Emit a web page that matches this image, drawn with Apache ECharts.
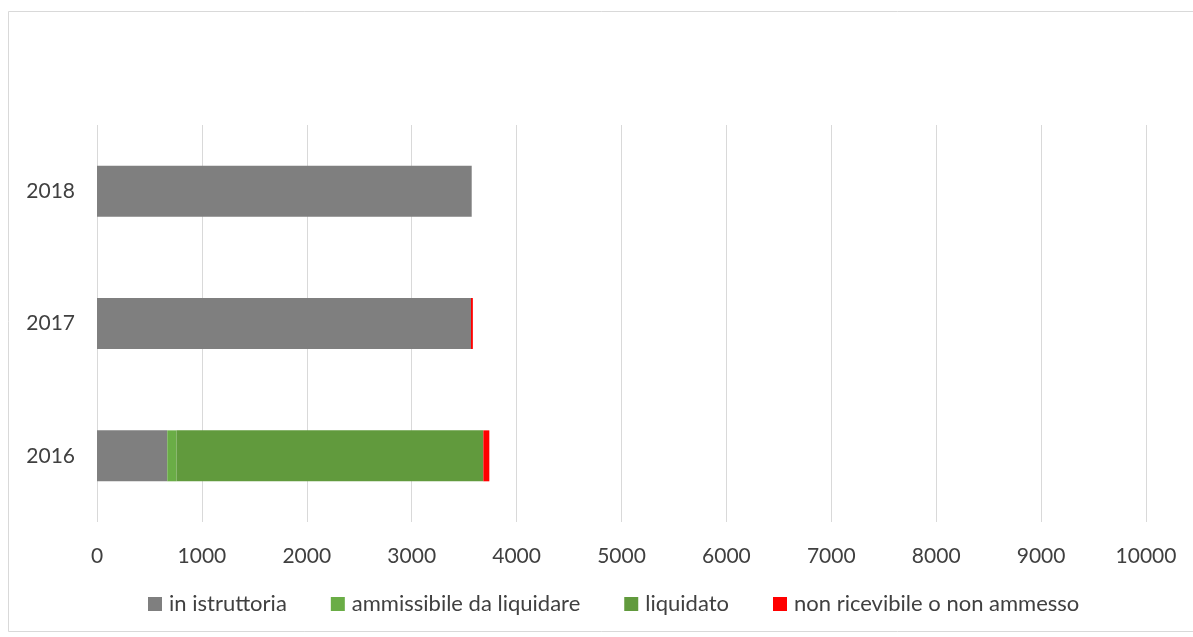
<!DOCTYPE html>
<html>
<head>
<meta charset="utf-8">
<script src="https://cdn.jsdelivr.net/npm/echarts@6/dist/echarts.min.js"></script>
<style>
html,body{margin:0;padding:0;background:#fff;}
#chart{width:1193px;height:637px;}
</style>
</head>
<body>
<div id="chart"></div>
<script>
var categories = ['2016', '2017', '2018'];
var seriesNames = ['in istruttoria', 'ammissibile da liquidare', 'liquidato', 'non ricevibile o non ammesso'];
var inIstruttoria = [670, 3565, 3572];
var ammissibile = [88, 0, 0];
var liquidato = [2925, 0, 0];
var nonRicevibile = [57, 18, 0];
var xTicks = [0, 1000, 2000, 3000, 4000, 5000, 6000, 7000, 8000, 9000, 10000];

var colors = ['#7f7f7f', '#6aad46', '#619a3d', '#ff0000'];
var values = [inIstruttoria, ammissibile, liquidato, nonRicevibile];
var FONT = 'Lato';

var chart = echarts.init(document.getElementById('chart'), null, {renderer: 'canvas'});
chart.setOption({
  backgroundColor: '#ffffff',
  animation: false,
  textStyle: {fontFamily: FONT},
  graphic: [{
    type: 'rect',
    shape: {x: 8.5, y: 11.5, width: 1200, height: 620},
    style: {fill: 'none', stroke: '#d9d9d9', lineWidth: 1},
    silent: true
  }],
  legend: {
    bottom: 17,
    left: 143,
    itemWidth: 14,
    itemHeight: 14,
    itemGap: 44,
    icon: 'rect',
    data: seriesNames,
    textStyle: {fontFamily: FONT, fontSize: 22, color: '#404040', padding: [0, 0, 0, 2]}
  },
  grid: {left: 97, right: 47, top: 125, bottom: 115, containLabel: false},
  xAxis: {
    type: 'value',
    min: xTicks[0],
    max: xTicks[xTicks.length - 1],
    interval: 1000,
    axisLine: {show: false},
    axisTick: {show: false},
    splitLine: {show: true, lineStyle: {color: '#d9d9d9', width: 1}},
    axisLabel: {fontFamily: FONT, fontSize: 21, color: '#404040', margin: 24,
      formatter: function (v) { return String(v); }}
  },
  yAxis: {
    type: 'category',
    data: categories,
    axisLine: {show: false},
    axisTick: {show: false},
    splitLine: {show: false},
    axisLabel: {fontFamily: FONT, fontSize: 21, color: '#404040', margin: 22}
  },
  series: seriesNames.map(function (name, i) {
    return {
      name: name,
      type: 'bar',
      stack: 'total',
      barWidth: '38.5%',
      itemStyle: {color: colors[i]},
      data: values[i]
    };
  })
});
</script>
</body>
</html>
